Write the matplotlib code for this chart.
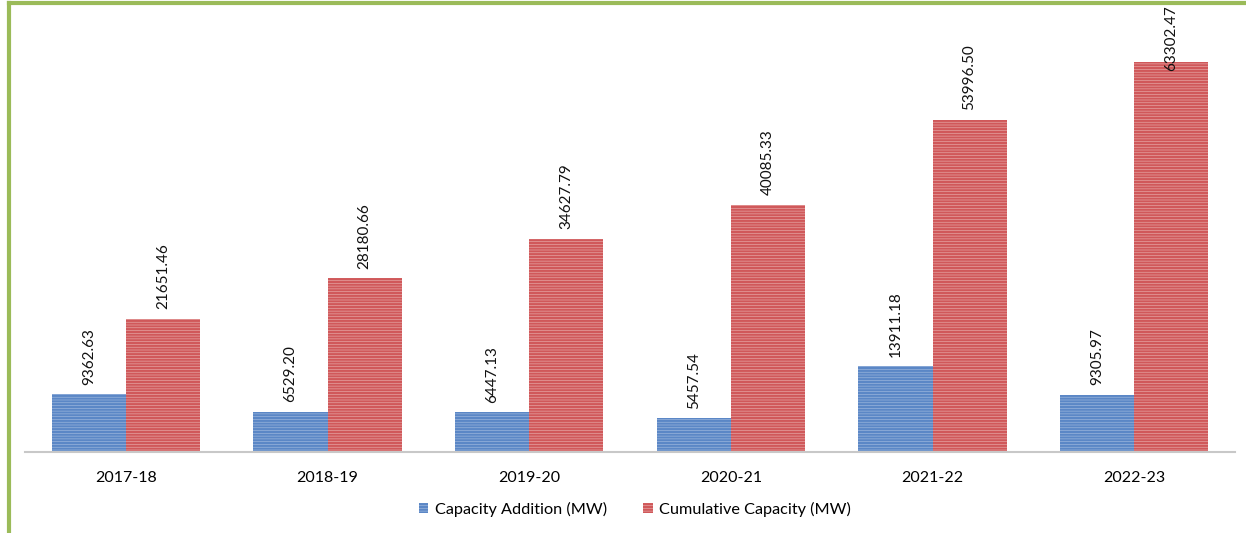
import matplotlib
matplotlib.use("Agg")
from matplotlib import pyplot as plt
import numpy as np

years = ["2017-18", "2018-19", "2019-20", "2020-21", "2021-22", "2022-23"]
addition = [9362.63, 6529.20, 6447.13, 5457.54, 13911.18, 9305.97]
cumulative = [21651.46, 28180.66, 34627.79, 40085.33, 53996.50, 63302.47]

plt.rcParams['font.family'] = ['Lato', 'DejaVu Sans']
plt.rcParams['hatch.linewidth'] = 1.6

fig = plt.figure(figsize=(12.46, 5.33), dpi=100)
W, H = 1246, 533
# axes in pixel coords: left 25, right 1235, bottom 452, top 21
ax = fig.add_axes([25 / W, (H - 452) / H, 1210 / W, 431 / H])

x = np.arange(len(years))
w = 0.367
b1 = ax.bar(x - w / 2, addition, w, color='#a9c0e2', edgecolor='#5b87c6',
            hatch='------', linewidth=0, label='Capacity Addition (MW)')
b2 = ax.bar(x + w / 2, cumulative, w, color='#eab5b4', edgecolor='#d0585a',
            hatch='------', linewidth=0, label='Cumulative Capacity (MW)')

top = max(cumulative)
for bars, vals in ((b1, addition), (b2, cumulative)):
    for r, v in zip(bars, vals):
        xc = r.get_x() + r.get_width() / 2
        if v == top:
            # no room above the tallest bar: pin label to the top edge
            ax.annotate(f"{v:.2f}", (xc, 1.0), xycoords=('data', 'axes fraction'),
                        xytext=(0, 11), textcoords='offset points',
                        rotation=90, ha='center', va='top', fontsize=11,
                        color='#111111')
        else:
            ax.annotate(f"{v:.2f}", (xc, v), xytext=(0, 7),
                        textcoords='offset points', rotation=90,
                        ha='center', va='bottom', fontsize=11, color='#111111')

ax.set_xlim(-0.5, len(years) - 0.5)
ax.set_ylim(0, 70000)
ax.set_xticks(x)
ax.set_xticklabels(years, fontsize=11.5)
ax.tick_params(axis='x', length=0, pad=14)
ax.set_yticks([])
for s in ['top', 'right', 'left']:
    ax.spines[s].set_visible(False)
ax.spines['bottom'].set_color('#c8c8c8')
ax.spines['bottom'].set_linewidth(1.5)

ax.legend(loc='upper center', bbox_to_anchor=(0.504, -0.082), ncol=2,
          frameon=False, fontsize=11.7, handlelength=0.6, handleheight=0.6,
          columnspacing=2.2, handletextpad=0.4)

# green frame on top and left
fig.add_artist(plt.Line2D([8.5 / W, 8.5 / W], [0, (H - 3) / H],
                          transform=fig.transFigure, color='#9bbb59', lw=3))
fig.add_artist(plt.Line2D([8.5 / W, 1], [(H - 3) / H, (H - 3) / H],
                          transform=fig.transFigure, color='#9bbb59', lw=3))

fig.savefig("out.png", dpi=100)
